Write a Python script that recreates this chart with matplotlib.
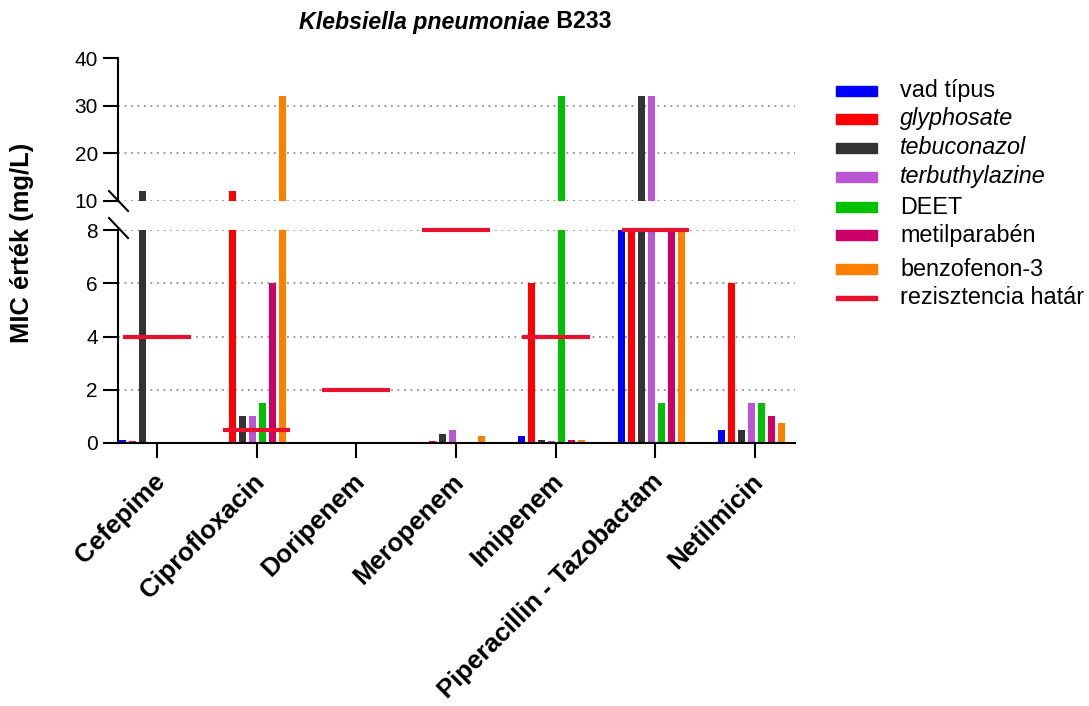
import matplotlib
matplotlib.use("Agg")
import matplotlib.pyplot as plt
import matplotlib.transforms as mtransforms
from matplotlib.lines import Line2D
from matplotlib.patches import Rectangle

plt.rcParams['font.family'] = ['Liberation Sans', 'DejaVu Sans']

# ---- data -------------------------------------------------------------
categories = ["Cefepime", "Ciprofloxacin", "Doripenem", "Meropenem",
              "Imipenem", "Piperacillin - Tazobactam", "Netilmicin"]

series_names = ["vad típus", "glyphosate", "tebuconazol", "terbuthylazine",
                "DEET", "metilparabén", "benzofenon-3"]
italic_names = {"glyphosate", "tebuconazol", "terbuthylazine"}

vad_tipus      = [0.125, 0.0, 0.0, 0.0, 0.25, 8.0, 0.5]
glyphosate     = [0.06, 12.0, 0.0, 0.06, 6.0, 8.0, 6.0]
tebuconazol    = [12.0, 1.0, 0.0, 0.32, 0.125, 32.0, 0.5]
terbuthylazine = [0.0, 1.0, 0.0, 0.5, 0.06, 32.0, 1.5]
deet           = [0.0, 1.5, 0.0, 0.0, 32.0, 1.5, 1.5]
metilparaben   = [0.0, 6.0, 0.0, 0.0, 0.125, 8.0, 1.0]
benzofenon3    = [0.0, 32.0, 0.0, 0.25, 0.125, 8.0, 0.75]

# resistance breakpoints (None = no breakpoint)
rezisztencia_hatar = [4.0, 0.5, 2.0, 8.0, 4.0, 8.0, None]

series_values = [vad_tipus, glyphosate, tebuconazol, terbuthylazine,
                 deet, metilparaben, benzofenon3]
series_colors = ["#0000FF", "#FF0000", "#333333", "#BA55D3",
                 "#00C000", "#CC0066", "#FF8000"]
limit_color = "#E8112D"

# ---- figure / broken axis layout --------------------------------------
W, H = 1089, 706
fig = plt.figure(figsize=(W / 100, H / 100), dpi=100)

def px_box(x0, y0, x1, y1):
    return [x0 / W, 1 - y1 / H, (x1 - x0) / W, (y1 - y0) / H]

ax_top = fig.add_axes(px_box(118, 58, 795, 201))
ax_bot = fig.add_axes(px_box(118, 230, 795, 443))

xmin, xmax = -0.39, 6.40
for ax in (ax_top, ax_bot):
    ax.set_xlim(xmin, xmax)
    for s in ("top", "right"):
        ax.spines[s].set_visible(False)
    ax.spines["left"].set_linewidth(1.5)
    ax.spines["bottom"].set_linewidth(1.5)
    ax.tick_params(axis="y", length=11, width=1.5, labelsize=15, pad=3.5)

ax_top.set_ylim(10, 40)
ax_top.set_yticks([10, 20, 30, 40])
ax_top.spines["bottom"].set_visible(False)
ax_top.set_xticks([])

ax_bot.set_ylim(0, 8)
ax_bot.set_yticks([0, 2, 4, 6, 8])
ax_bot.set_xticks(range(len(categories)))
ax_bot.set_xticklabels(categories, rotation=45, ha="right",
                       rotation_mode="anchor", fontsize=18.5,
                       fontweight="bold")
ax_bot.tick_params(axis="x", length=11, width=1.5, pad=8)
shift = mtransforms.ScaledTranslation(-4 / 100, 0, fig.dpi_scale_trans)
for lab in ax_bot.get_xticklabels():
    lab.set_transform(lab.get_transform() + shift)

# dotted grid
grid_kw = dict(color="#909090", lw=1.3, ls=(0, (1, 2.6)), zorder=0)
for y in (10, 20, 30):
    ax_top.axhline(y, **grid_kw)
for y in (2, 4, 6, 8):
    ax_bot.axhline(y, **grid_kw)

# ---- bars --------------------------------------------------------------
n = len(series_values)
bar_w = 0.07
step = 0.1
for i, (vals, col) in enumerate(zip(series_values, series_colors)):
    xs = [k + (i - (n - 1) / 2) * step - 0.04 for k in range(len(categories))]
    for ax in (ax_top, ax_bot):
        ax.bar(xs, vals, width=bar_w, color=col, edgecolor="none", zorder=2)

# ---- resistance breakpoints -------------------------------------------
half = 0.34
for k, lim in enumerate(rezisztencia_hatar):
    if lim is None:
        continue
    ax_bot.plot([k - half, k + half], [lim, lim], color=limit_color,
                lw=3.0, solid_capstyle="butt", zorder=3, clip_on=False)

# ---- axis break marks --------------------------------------------------
for yc in (201, 228):
    fig.add_artist(Line2D([109 / W, 128 / W],
                          [1 - (yc - 10) / H, 1 - (yc + 10) / H],
                          color="black", lw=1.5, transform=fig.transFigure))

# ---- labels -------------------------------------------------------------
fig.text(22 / W, 1 - 243 / H, "MIC érték (mg/L)", rotation=90,
         ha="center", va="center", fontsize=18.4, fontweight="bold")

t1 = fig.text(0, 1 - 22 / H, "Klebsiella pneumoniae", fontsize=16.7,
              fontweight="bold", style="italic", va="center", ha="left")
t2 = fig.text(0, 1 - 22 / H, " B233", fontsize=16.7,
              fontweight="bold", va="center", ha="left")
fig.canvas.draw()
r = fig.canvas.get_renderer()
w1 = t1.get_window_extent(r).width
w2 = t2.get_window_extent(r).width
cx = 455
t1.set_x((cx - (w1 + w2) / 2) / W)
t2.set_x((cx - (w1 + w2) / 2 + w1) / W)

# ---- legend --------------------------------------------------------------
rows = [91, 119, 148, 177, 207, 235, 269, 298]
labels = series_names + ["rezisztencia határ"]
colors = series_colors + [limit_color]
for j, (lab, col, yc) in enumerate(zip(labels, colors, rows)):
    hh = 10 if j < n else 4
    fig.add_artist(Rectangle((836 / W, 1 - (yc + hh / 2) / H), 41 / W, hh / H,
                             color=col, transform=fig.transFigure))
    fig.text(900 / W, 1 - yc / H, lab, fontsize=16.8, va="center", ha="left",
             style="italic" if lab in italic_names else "normal")

fig.savefig("out.png", dpi=100)
